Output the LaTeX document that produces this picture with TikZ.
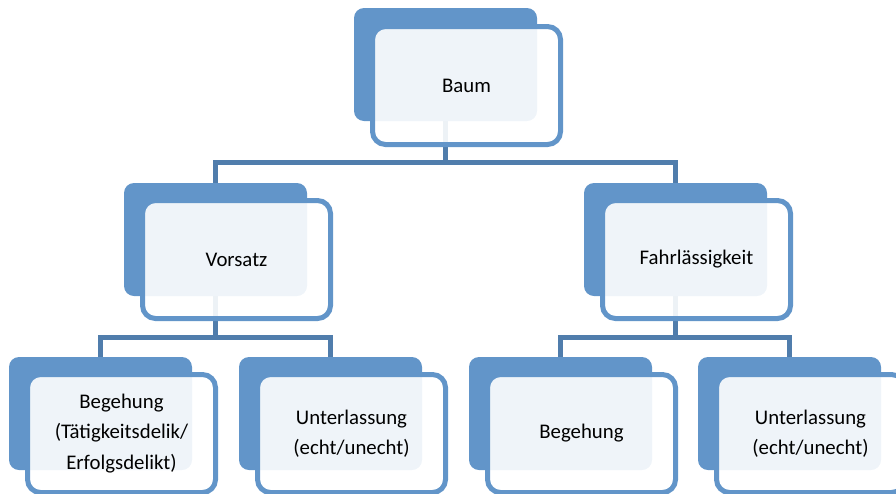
\documentclass[tikz,border=0pt]{standalone}
\usepackage{fontspec}
\setmainfont{Carlito}
\definecolor{boxblue}{RGB}{98,149,201}
\definecolor{connblue}{RGB}{80,125,172}
\tikzset{
  backbox/.style={rectangle, rounded corners=10pt, fill=boxblue, draw=none,
    minimum width=183pt, minimum height=113pt, inner sep=0pt, outer sep=0pt},
  frontbox/.style={rectangle, rounded corners=13pt, draw=boxblue, line width=5pt,
    fill=white, fill opacity=0.9, text opacity=1, text=black,
    minimum width=188pt, minimum height=118pt, inner sep=0pt, outer sep=0pt,
    align=center, font=\fontsize{20.8}{30.5}\selectfont},
  conn/.style={draw=connblue, line width=5pt, line join=miter}
}
\begin{document}
\begin{tikzpicture}[x=1pt,y=-1pt]
\useasboundingbox (0,0) rectangle (896,493);
\clip (0,0) rectangle (896,493);
% back boxes (top-left bx,by: centre = bx+91.5, by+56.5)
\node[backbox] (baumB) at (445.5,64.5) {};
\node[backbox] (vorsB) at (215.5,239.5) {};
\node[backbox] (fahrB) at (675.5,239.5) {};
\node[backbox] (begLB) at (100.5,413.5) {};
\node[backbox] (untLB) at (330.5,413.5) {};
\node[backbox] (begRB) at (560.5,413.5) {};
\node[backbox] (untRB) at (789.5,413.5) {};
% connectors
\coordinate (h1) at (0,162);
\coordinate (h2) at (0,337.5);
\draw[conn] (baumB.south) -- (baumB.south |- h1) -| (vorsB.north);
\draw[conn] (baumB.south |- h1) -| (fahrB.north);
\draw[conn] (vorsB.south) -- (vorsB.south |- h2) -| (begLB.north);
\draw[conn] (vorsB.south |- h2) -| (untLB.north);
\draw[conn] (fahrB.south) -- (fahrB.south |- h2) -| (begRB.north);
\draw[conn] (fahrB.south |- h2) -| (untRB.north);
% front boxes (centre = bx+112.5, by+76.5)
\node[frontbox] (baum) at (466.5,85.5) {Baum};
\node[frontbox] (vors) at (236.5,259.5) {Vorsatz};
\node[frontbox] (fahr) at (696.5,259.5) {Fahrlässigkeit};
\node[frontbox] (begL) at (121.5,433.5) {Begehung\\(Tätigkeitsdelik/\\Erfolgsdelikt)};
\node[frontbox] (untL) at (351.5,433.5) {Unterlassung\\(echt/unecht)};
\node[frontbox] (begR) at (581.5,433.5) {Begehung};
\node[frontbox] (untR) at (810.5,433.5) {Unterlassung\\(echt/unecht)};
\end{tikzpicture}
\end{document}
